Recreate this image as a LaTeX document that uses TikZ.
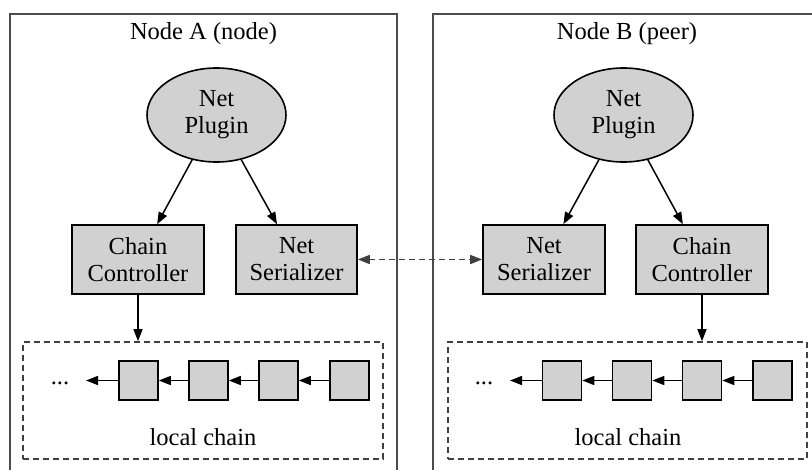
\documentclass[tikz,border=0pt]{standalone}
\usepackage{fontspec}
\setmainfont{Liberation Serif}
\usetikzlibrary{shapes.geometric,arrows.meta}
\begin{document}
\begin{tikzpicture}[x=1pt,y=-1pt,
  font=\fontsize{24.5}{27}\selectfont,
  frame/.style={draw=black!70,line width=2pt},
  plugin/.style={ellipse,draw,fill=black!18,line width=1.6pt,minimum width=139pt,minimum height=94pt,inner sep=0pt,align=center},
  comp/.style={rectangle,draw,fill=black!18,line width=1.6pt,minimum height=69pt,inner sep=0pt,align=center},
  blk/.style={rectangle,draw,fill=black!18,line width=1.6pt,minimum width=39pt,minimum height=39pt,inner sep=0pt},
  chainbox/.style={draw=black!75,line width=1.6pt,dash pattern=on 6pt off 4pt},
  arr/.style={-{Triangle[length=12pt,width=9pt]},line width=1.5pt},
  darr/.style={{Triangle[length=12pt,width=9pt]}-{Triangle[length=12pt,width=9pt]},line width=1.5pt,dash pattern=on 6pt off 4pt,draw=black!75}
]
\useasboundingbox (0,0) rectangle (812,469);
\clip (0,0) rectangle (812,469);
\fill[white] (0,0) rectangle (812,469);

% outer frames of the two hosts
\draw[frame] (10,14) rectangle (397,490);
\draw[frame] (433,14) rectangle (840,490);
\node (titleA) at (203.5,34) {Node A (node)};
\node (titleB) at (627,34) {Node B (peer)};

% Node A components
\node[plugin] (plA) at (216.5,115) {Net\\Plugin};
\node[comp,minimum width=132pt] (ccA) at (138,259.5) {Chain\\Controller};
\node[comp,minimum width=121pt] (nsA) at (296.5,259.5) {Net\\Serializer};

% Node B components
\node[plugin] (plB) at (623.5,115) {Net\\Plugin};
\node[comp,minimum width=122pt] (nsB) at (544,259.5) {Net\\Serializer};
\node[comp,minimum width=132pt] (ccB) at (702,259.5) {Chain\\Controller};

% local chains
\node[chainbox,minimum width=360pt,minimum height=117pt,inner sep=0pt] (lcA) at (203,400.5) {};
\node[chainbox,minimum width=359pt,minimum height=117pt,inner sep=0pt] (lcB) at (627.5,400.5) {};
\node (lclA) at (203,437) {local chain};
\node (lclB) at (628,437) {local chain};

% blocks of chain A
\node[blk] (a1) at (138.5,380.5) {};
\node[blk] (a2) at (208.5,380.5) {};
\node[blk] (a3) at (278.5,380.5) {};
\node[blk] (a4) at (349.5,380.5) {};
\node (dotsA) at (60,383) {...};
\coordinate (endA) at (86,380.5);

% blocks of chain B
\node[blk] (b1) at (562,380.5) {};
\node[blk] (b2) at (632,380.5) {};
\node[blk] (b3) at (702,380.5) {};
\node[blk] (b4) at (772.5,380.5) {};
\node (dotsB) at (484,383) {...};
\coordinate (endB) at (510,380.5);

% connectors
\draw[arr] (plA) -- (ccA);
\draw[arr] (plA) -- (nsA);
\draw[arr] (plB) -- (nsB);
\draw[arr] (plB) -- (ccB);
\draw[arr] (ccA.south) -- (ccA.south |- lcA.north);
\draw[arr] (ccB.south) -- (ccB.south |- lcB.north);
\draw[darr] (nsA.east) -- (nsB.west);

\draw[arr] (a4.west) -- (a3.east);
\draw[arr] (a3.west) -- (a2.east);
\draw[arr] (a2.west) -- (a1.east);
\draw[arr] (a1.west) -- (endA);
\draw[arr] (b4.west) -- (b3.east);
\draw[arr] (b3.west) -- (b2.east);
\draw[arr] (b2.west) -- (b1.east);
\draw[arr] (b1.west) -- (endB);
\end{tikzpicture}
\end{document}
